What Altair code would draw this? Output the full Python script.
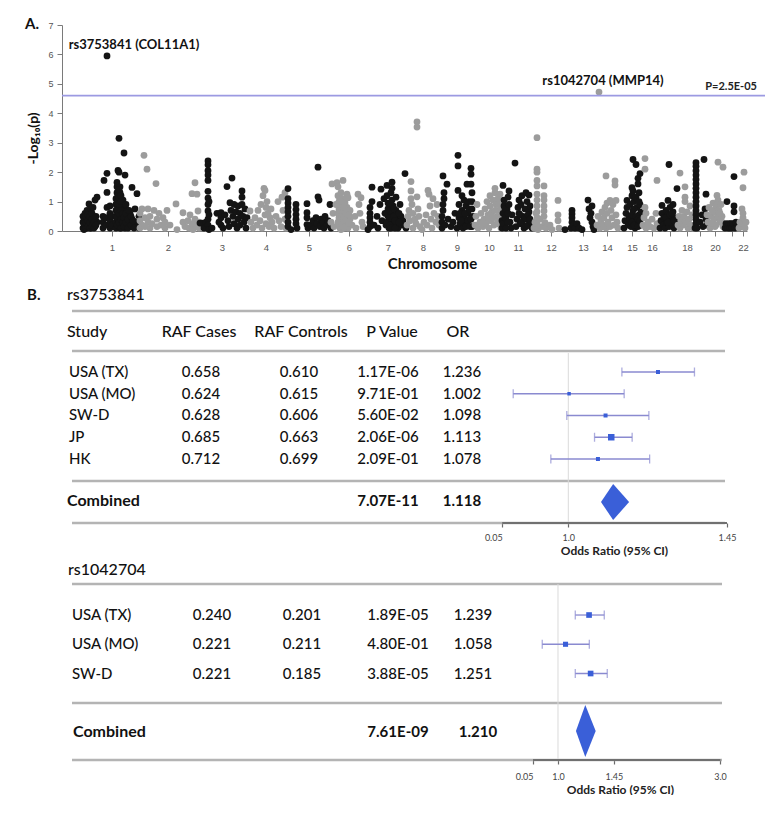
import altair as alt
import pandas as pd

# ================= Panel A : Manhattan plot (cumulative position, -log10 p) =================
chr_centers = [50, 106, 160, 204, 247, 287, 326, 361, 395, 427, 456, 489,
               521, 545, 570, 590, 608, 625, 638, 653, 670, 681]
chr_tick_text = ["1", "2", "3", "4", "5", "6", "7", "8", "9", "10", "11", "12",
                 "13", "14", "15", "16", "", "18", "", "20", "", "22"]

chr1 = [(21,0.1),(21,0.3),(21,0.5),(23,0.2),(23,0.4),(23,0.6),(25,0.1),(25,0.3),(25,0.5),(25,0.7),
        (27,0.2),(27,0.45),(27,0.65),(27,0.92),(29,0.1),(29,0.35),(29,0.55),(29,0.75),(31,0.2),(31,0.5),
        (31,0.8),(33,0.15),(33,0.4),(33,1.05),(35,0.3),(35,1.15),(41,0.1),(41,0.3),(41,0.5),(42,1.72),
        (44,0.2),(44,0.45),(45,1.31),(45,1.96),(45,0.8),(45,5.95),(48,0.1),(48,0.35),(48,0.6),(48,0.85),
        (50,0.2),(50,0.5),(54,0.1),(54,0.3),(54,0.5),(54,0.7),(54,0.9),(54,1.1),(55,1.3),(55,1.5),
        (55,1.65),(56,0.2),(56,0.4),(56,0.6),(56,0.8),(56,1.0),(56,1.2),(56,2.06),(57,2.0),(57,3.15),
        (58,0.1),(58,0.35),(58,0.55),(58,0.75),(58,0.95),(58,1.3),(58,1.5),(60,0.2),(60,0.45),(60,0.65),
        (60,0.85),(61,1.05),(62,2.65),(63,1.9),(63,0.1),(63,0.4),(63,0.6),(63,0.8),(65,0.2),(65,0.5),
        (65,0.7),(68,0.3),(68,0.6),(70,1.48),(70,0.4),(70,0.15),(73,0.75),(73,0.3),(75,1.27),(76,0.25),
        (77,0.5),(77,0.1),(22,0.05),(22,0.25),(22,0.45),(24,0.1),(24,0.3),(24,0.5),(26,0.15),(26,0.35),
        (26,0.55),(28,0.1),(28,0.3),(28,0.5),(30,0.15),(30,0.4),(30,0.6),(32,0.1),(32,0.3),(34,0.2),
        (34,0.5),(55,0.2),(55,0.45),(55,0.7),(55,0.95),(57,0.3),(57,0.6),(57,0.9),(57,1.15),(57,1.4),
        (59,0.1),(59,0.4),(59,0.7),(59,1.0),(59,1.2),(61,0.3),(61,0.6),(62,0.15),(62,0.45),(64,0.3),
        (64,0.6),(64,0.9),(66,0.1),(66,0.4),(67,0.7),(69,0.2),(69,0.5),(71,0.35),(72,0.1)]
chr2 = [(78,0.1),(78,0.35),(78,0.6),(80,0.2),(80,0.75),(82,2.57),(83,0.15),(83,0.45),(85,2.1),(86,0.3),
        (86,0.75),(88,0.1),(88,0.5),(90,0.25),(92,0.7),(94,1.61),(95,0.15),(95,0.4),(97,0.6),(99,0.2),
        (101,0.45),(103,0.1),(103,0.3),(105,0.7),(108,0.2),(114,0.92),(115,0.05),(121,0.62),(121,0.3),
        (123,0.15),(126,0.35),(127,0.1),(128,0.55),(130,1.27),(130,0.25),(131,0.05),(133,1.64),(133,0.4),
        (134,0.2),(135,1.25),(136,0.68),(137,0.3),(137,0.1)]
chr3 = [(138,0.27),(140,0.27),(142,0.1),(144,0.3),(146,2.38),(146,2.25),(146,2.05),(146,1.9),(146,1.72),
        (146,1.35),(146,1.12),(146,0.9),(146,0.68),(146,0.4),(146,0.2),(147,1.0),(147,0.55),(147,0.05),
        (150,0.1),(155,0.6),(157,0.3),(159,0.62),(159,0.45),(159,0.2),(161,0.1),(163,0.55),(165,1.51),
        (166,0.35),(167,0.15),(168,0.96),(169,0.7),(170,1.8),(171,0.5),(172,0.9),(172,0.25),(174,0.65),
        (175,0.1),(176,0.85),(176,0.4),(178,0.6),(178,0.2),(180,1.36),(180,1.15),(180,0.9),(181,0.5),
        (182,0.3),(183,0.75),(184,0.1),(185,0.45)]
chr4 = [(188,0.68),(189,0.3),(191,0.1),(193,0.45),(195,0.2),(196,0.7),(198,0.35),(199,0.9),(200,0.1),
        (201,1.2),(202,1.45),(203,1.38),(203,0.55),(204,0.8),(204,0.25),(205,1.0),(206,0.6),(207,0.15),
        (208,0.45),(209,0.75),(210,0.3),(212,0.1),(214,0.5),(216,1.0),(217,0.35),(219,0.15),(220,1.15),
        (221,0.7),(223,1.3),(223,0.4),(224,0.1)]
chr5 = [(226,1.44),(226,1.1),(226,0.95),(226,0.8),(226,0.65),(226,0.5),(226,0.3),(226,0.15),(229,0.05),
        (234,0.9),(234,0.73),(234,0.56),(234,0.4),(234,0.25),(235,0.1),(245,0.93),(245,0.62),(245,0.45),
        (245,0.22),(246,0.1),(249,0.2),(251,0.35),(252,0.1),(254,0.45),(255,0.25),(256,2.17),(256,1.16),
        (257,1.05),(258,0.15),(259,0.4),(261,0.3),(262,0.1),(263,0.5),(265,0.2),(266,0.35),(268,0.9),
        (269,0.1)]
chr6 = [(269,0.3),(270,1.6),(271,0.6),(272,0.15),(274,0.9),(275,1.64),(276,1.5),(276,1.2),(277,1.0),
        (277,0.75),(277,0.45),(277,0.2),(279,1.3),(279,0.85),(279,0.55),(279,0.05),(281,1.72),(281,1.1),
        (281,0.35),(283,0.95),(283,0.65),(283,0.25),(285,1.25),(285,0.8),(285,0.5),(286,1.13),(286,0.1),
        (288,0.7),(288,0.4),(290,0.2),(293,0.5),(294,0.1),(296,1.25),(297,0.9),(298,0.6),(299,1.13),
        (300,0.3),(301,0.15),(276,0.3),(276,0.6),(276,0.9),(278,0.1),(278,0.4),(278,0.7),(278,1.0),
        (280,0.2),(280,0.5),(280,0.8),(282,0.1),(282,0.5),(282,0.8),(284,0.35),(284,0.6),(287,0.3),
        (287,0.55)]
chr7 = [(306,0.05),(308,0.8),(308,0.6),(308,0.45),(308,0.3),(308,0.15),(310,1.49),(310,1.0),(312,0.2),
        (315,0.5),(316,0.1),(318,0.9),(319,1.42),(320,0.35),(322,1.1),(323,0.6),(324,0.2),(325,1.55),
        (325,1.2),(326,0.95),(326,0.75),(326,0.5),(327,0.3),(327,0.1),(329,1.3),(330,1.66),(330,1.45),
        (330,1.05),(331,0.85),(331,0.55),(332,0.25),(334,1.15),(334,0.7),(335,0.4),(336,0.1),(338,0.9),
        (339,0.5),(340,0.2),(341,0.35),(343,1.95),(344,0.1),(325,0.3),(325,0.6),(328,0.2),(328,0.45),
        (328,0.7),(328,0.95),(329,0.1),(332,0.5),(332,0.75),(333,0.1),(333,0.35),(337,0.3),(337,0.6)]
chr8 = [(345,0.2),(346,0.5),(347,0.7),(348,0.35),(349,1.68),(349,1.36),(349,1.1),(350,0.9),(351,0.6),
        (351,0.1),(353,0.4),(354,0.25),(355,3.71),(355,3.53),(355,1.16),(356,0.75),(357,0.5),(358,0.15),
        (360,0.05),(362,0.3),(364,0.55),(365,0.2),(366,1.38),(367,1.25),(368,0.85),(369,0.4),(370,0.1),
        (371,1.1),(372,0.6),(374,0.3),(375,0.9),(376,0.5),(377,0.2)]
chr9 = [(380,0.1),(380,0.3),(380,0.5),(381,1.87),(381,0.7),(381,0.9),(382,1.1),(382,1.3),(383,0.2),
        (385,1.59),(386,0.4),(389,0.15),(391,0.3),(393,0.6),(395,0.1),(396,2.57),(396,2.21),(396,1.38),
        (397,0.9),(397,0.45),(398,0.25),(400,1.2),(400,0.7),(401,0.1),(402,1.05),(402,0.5),(403,0.3),
        (404,0.85),(405,1.59),(405,0.2),(406,0.6),(407,1.0),(408,0.4),(409,2.13),(409,1.93),(409,1.59),
        (410,1.3),(410,0.75),(410,0.15),(411,0.5),(398,0.6),(399,0.35),(403,0.6),(404,0.15),(406,0.35),
        (407,0.75),(408,0.15),(409,0.4),(410,1.0)]
chr10 = [(413,0.2),(414,0.5),(415,0.9),(416,0.1),(418,0.3),(419,0.6),(421,0.15),(422,0.4),(423,0.75),
         (424,0.25),(425,1.0),(426,0.55),(427,0.1),(428,1.2),(428,0.85),(429,0.35),(430,0.65),(431,1.05),
         (432,0.2),(433,1.45),(433,1.3),(434,0.9),(435,0.5),(436,1.1),(436,0.3),(437,0.7),(438,1.25),
         (439,0.45),(439,0.1),(427,0.4),(429,0.6),(431,0.45),(433,0.7),(435,0.25),(437,0.9)]
chr11 = [(440,0.1),(440,0.35),(441,1.55),(441,0.6),(442,0.85),(442,1.05),(443,0.2),(444,0.45),(445,0.75),
         (446,1.15),(447,1.36),(448,0.3),(449,0.1),(450,0.55),(453,2.31),(454,0.15),(455,0.4),(456,0.8),
         (457,1.05),(457,0.6),(458,0.25),(459,0.9),(460,1.2),(461,0.5),(462,0.1),(463,0.75),(464,1.3),
         (465,1.0),(465,0.4),(466,0.2),(467,1.22),(467,0.65),(468,0.85),(469,0.3),(470,0.1),(441,0.25),
         (443,0.45),(443,0.75),(444,0.1),(446,0.3),(446,0.6),(447,0.9),(458,0.55),(460,0.3),(463,0.45),
         (464,0.15),(466,0.55),(468,0.4)]
chr12 = [(472,0.1),(473,0.3),(474,0.6),(475,3.17),(475,2.1),(475,2.0),(475,1.72),(475,1.53),(475,1.25),
         (475,1.05),(475,0.85),(475,0.65),(475,0.45),(475,0.25),(476,0.05),(478,0.4),(480,0.15),(482,1.53),
         (482,1.2),(482,1.05),(482,0.85),(482,0.68),(482,0.5),(483,0.28),(484,0.1),(488,0.2),(490,0.05),
         (496,1.04),(496,0.55),(496,0.35),(497,0.1)]
chr13 = [(503,0.05),(509,0.1),(510,0.7),(510,0.58),(510,0.45),(510,0.3),(511,0.2),(513,0.1),(515,0.25),
         (517,0.1),(520,0.05),(526,1.05),(527,0.75),(528,0.45),(529,0.6),(530,0.85),(530,0.3),(531,0.15),
         (532,0.05)]
chr14 = [(535,0.2),(536,0.5),(537,4.72),(538,0.1),(539,0.35),(540,0.65),(541,0.2),(542,0.45),(543,0.8),
         (544,1.87),(544,0.1),(545,0.95),(545,0.6),(546,0.3),(548,1.04),(548,0.15),(549,0.7),(550,0.45),
         (551,0.9),(552,0.2),(553,1.7),(553,1.56),(554,1.04),(554,0.55),(555,0.3),(556,0.1)]
chr15 = [(562,0.1),(563,0.35),(564,0.6),(565,1.04),(565,0.8),(566,0.2),(567,0.5),(568,0.9),(569,0.15),
         (570,1.47),(570,1.2),(571,2.43),(571,1.36),(571,0.7),(572,0.4),(572,1.0),(573,0.1),(574,2.26),
         (574,1.15),(575,0.8),(575,0.3),(576,1.79),(576,1.6),(577,0.55),(577,1.3),(578,1.95),(578,0.9),
         (579,0.2),(579,0.65),(568,0.4),(570,0.3),(570,0.55),(572,0.2),(572,0.75),(574,0.5),(576,0.4),
         (576,0.15),(577,1.0),(578,0.35)]
chr16 = [(581,0.2),(582,0.45),(583,2.46),(583,2.1),(583,0.8),(584,0.6),(584,0.1),(586,0.3),(588,0.15),
         (590,0.4),(592,0.1),(594,0.6),(595,1.72),(595,0.25)]
chr17 = [(598,0.1),(599,0.35),(600,0.87),(600,0.6),(601,0.2),(602,0.45),(603,0.1),(604,0.7),(605,0.3),
         (606,1.04),(606,0.55),(607,2.26),(607,0.15),(608,0.8),(609,0.4),(610,0.2),(611,0.9),(611,0.65),
         (612,0.1),(613,0.45),(615,1.44),(615,0.25),(604,0.45),(606,0.3),(608,0.55),(610,0.6),(612,0.35)]
chr18 = [(616,0.2),(617,0.5),(618,1.97),(618,0.1),(619,0.35),(620,0.7),(621,0.2),(622,0.5),(623,1.5),
         (623,1.15),(623,1.0),(624,0.3),(625,0.65),(626,0.1),(627,0.4),(628,0.85),(629,0.2),(630,0.55),
         (631,0.1)]
chr19 = [(633,0.1),(634,2.32),(634,2.2),(634,2.05),(634,1.9),(634,1.75),(634,1.6),(634,1.45),(634,1.3),
         (634,1.15),(634,1.0),(634,0.85),(634,0.7),(634,0.55),(634,0.4),(634,0.25),(635,0.1),(638,0.3),
         (640,0.55),(641,0.15),(642,2.43),(643,0.75),(644,1.25),(644,0.4),(645,0.2)]
chr20 = [(645,0.55),(646,0.3),(647,0.8),(648,0.1),(649,0.5),(650,0.25),(651,0.95),(652,0.65),(653,0.15),
         (654,0.85),(655,1.21),(655,0.45),(656,2.34),(656,1.05),(657,0.7),(658,0.3),(659,0.9),(660,0.5),
         (661,2.17),(661,0.15),(650,0.7),(652,0.4),(654,0.2),(656,0.5),(658,0.6),(660,0.3)]
chr21 = [(663,0.1),(664,0.25),(665,1.0),(666,0.1),(667,0.25),(668,0.1),(669,0.25),(670,0.1),(671,0.25),
         (672,1.85),(672,0.85),(672,0.65),(673,0.1),(674,0.3)]
chr22 = [(677,0.1),(678,0.3),(679,0.15),(680,0.75),(681,1.47),(681,0.6),(681,0.45),(682,2.0),(682,0.2),
         (683,0.1),(684,0.3)]

chromosomes = [chr1, chr2, chr3, chr4, chr5, chr6, chr7, chr8, chr9, chr10, chr11,
               chr12, chr13, chr14, chr15, chr16, chr17, chr18, chr19, chr20, chr21, chr22]

threshold = 4.6          # -log10(2.5E-05)
threshold_label = "P=2.5E-05"
snp_labels = ["rs3753841 (COL11A1)", "rs1042704 (MMP14)"]
snp_pos = [45, 537]
snp_logp = [5.95, 4.72]

# ================= Panel B : forest plots =================
studies1 = ["USA (TX)", "USA (MO)", "SW-D", "JP", "HK"]
raf_cases1 = ["0.658", "0.624", "0.628", "0.685", "0.712"]
raf_ctrls1 = ["0.610", "0.615", "0.606", "0.663", "0.699"]
pvals1 = ["1.17E-06", "9.71E-01", "5.60E-02", "2.06E-06", "2.09E-01"]
or1 = [1.236, 1.002, 1.098, 1.113, 1.078]
lo1 = [1.141, 0.855, 0.996, 1.069, 0.954]
hi1 = [1.332, 1.147, 1.212, 1.168, 1.214]
wt1 = [16, 12, 16, 42, 16]
comb1 = {"p": "7.07E-11", "or": 1.118, "lo": 1.086, "hi": 1.160}

studies2 = ["USA (TX)", "USA (MO)", "SW-D"]
raf_cases2 = ["0.240", "0.221", "0.221"]
raf_ctrls2 = ["0.201", "0.211", "0.185"]
pvals2 = ["1.89E-05", "4.80E-01", "3.88E-05"]
or2 = [1.239, 1.058, 1.251]
lo2 = [1.133, 0.879, 1.133]
hi2 = [1.356, 1.241, 1.379]
wt2 = [32, 26, 32]
comb2 = {"p": "7.61E-09", "or": 1.210, "lo": 1.138, "hi": 1.290}

header = ["Study", "RAF Cases", "RAF Controls", "P Value", "OR"]

FONT = "Lato"
BLUE = "#3a5fd8"
CI_COL = "#8a8ad0"
TXT = "#111111"
BODY_W = 500

# ----------------------------------------------------------- Manhattan
rows = []
for i, pts in enumerate(chromosomes, start=1):
    for pos, lp in pts:
        rows.append({"chr": i, "pos": pos, "logp": lp, "grp": "odd" if i % 2 else "even"})
man_df = pd.DataFrame(rows)

xs = alt.Scale(domain=[0, 685], nice=False, zero=False)
ys = alt.Scale(domain=[0, 7], nice=False, zero=True)
label_expr = ("[" + ",".join("'%s'" % t for t in chr_tick_text) + "][indexof(["
              + ",".join(str(c) for c in chr_centers) + "], datum.value)]")

x_axis = alt.Axis(values=chr_centers, labelExpr=label_expr, title="Chromosome", grid=False,
                  domainColor="#7a7a7a", tickColor="#7a7a7a", tickSize=5, labelFont="Liberation Sans",
                  labelFontSize=9.5, labelColor="#555555", labelPadding=6, labelFlush=False,
                  titleFont=FONT, titleFontSize=15, titleFontWeight="bold", titleColor="#111111",
                  titlePadding=5, titleX=370)
y_axis = alt.Axis(values=list(range(8)), title="-Log\u2081\u2080(p)", grid=False,
                  domainColor="#7a7a7a", tickColor="#7a7a7a", tickSize=5, labelFont="Liberation Sans",
                  labelFontSize=9, labelColor="#555555", labelPadding=4,
                  titleFont=FONT, titleFontSize=14, titleFontWeight="bold", titleColor="#111111",
                  titlePadding=7, titleY=113)

pts = alt.Chart(man_df).mark_circle(size=46, opacity=1).encode(
    x=alt.X("pos:Q", scale=xs, axis=x_axis),
    y=alt.Y("logp:Q", scale=ys, axis=y_axis),
    color=alt.Color("grp:N", scale=alt.Scale(domain=["odd", "even"], range=["#141414", "#9c9c9c"]),
                    legend=None),
)
thr_df = pd.DataFrame({"x": [0], "x2": [703], "y": [threshold]})
thr = alt.Chart(thr_df).mark_rule(color="#9c9ae2", strokeWidth=1.6).encode(
    x=alt.X("x:Q", scale=xs, axis=x_axis), x2="x2:Q", y=alt.Y("y:Q", scale=ys, axis=y_axis))
thr_txt = alt.Chart(pd.DataFrame({"x": [695], "y": [threshold], "t": [threshold_label]})).mark_text(
    align="right", baseline="middle", dy=-9, font=FONT, fontSize=11, fontWeight="bold", color="#222222"
).encode(x=alt.X("x:Q", scale=xs, axis=x_axis), y=alt.Y("y:Q", scale=ys, axis=y_axis), text="t:N")

snp_df = pd.DataFrame({"pos": snp_pos, "logp": snp_logp, "t": snp_labels})
snp1 = alt.Chart(snp_df.iloc[[0]]).mark_text(
    align="center", baseline="middle", dx=27, dy=-11, font=FONT, fontSize=13, fontWeight="bold",
    color="#111111").encode(x=alt.X("pos:Q", scale=xs, axis=x_axis),
                            y=alt.Y("logp:Q", scale=ys, axis=y_axis), text="t:N")
snp2 = alt.Chart(snp_df.iloc[[1]]).mark_text(
    align="center", baseline="middle", dx=4, dy=-11, font=FONT, fontSize=13, fontWeight="bold",
    color="#111111").encode(x=alt.X("pos:Q", scale=xs, axis=x_axis),
                            y=alt.Y("logp:Q", scale=ys, axis=y_axis), text="t:N")
letterA = alt.Chart(pd.DataFrame({"t": ["A."]})).mark_text(
    align="left", baseline="middle", font=FONT, fontSize=15, fontWeight="bold", color="#111111"
).encode(x=alt.value(-37), y=alt.value(-1), text="t:N")

manhattan = alt.layer(pts, thr, thr_txt, snp1, snp2, letterA).properties(width=685, height=206)


# ----------------------------------------------------------- Forest builder
def forest(letter, snp, studies, cases, ctrls, pvals, ors, los, his, wts, comb, L):
    LX = alt.Scale(domain=[0, L["W"]], nice=False, zero=False)
    Y = alt.Scale(domain=[L["row_top"], L["row_bot"]], reverse=True, nice=False, zero=False)
    ORX = alt.Scale(domain=L["or_domain"], nice=False, zero=False)
    n = len(studies)

    def tl(df, align, size, weight=BODY_W, color=TXT):
        return alt.Chart(df).mark_text(align=align, baseline="middle", font=FONT, fontSize=size,
                                       fontWeight=weight, color=color).encode(
            x=alt.X("lx:Q", scale=LX, axis=None), y=alt.Y("r:Q", scale=Y, axis=None), text="t:N")

    lines_df = pd.DataFrame({"lx": [L["line_x"][0]] * len(L["lines"]),
                             "lx2": [L["line_x"][1]] * len(L["lines"]), "r": L["lines"]})
    lines = alt.Chart(lines_df).mark_rule(color="#b4b4b4", strokeWidth=2.5).encode(
        x=alt.X("lx:Q", scale=LX, axis=None), x2="lx2:Q", y=alt.Y("r:Q", scale=Y, axis=None))

    text_layers = [lines]
    heads = [{"lx": L["heading_x"], "r": L["head_row"], "t": snp}]
    text_layers.append(tl(pd.DataFrame(heads), "left", 16))
    if letter:
        text_layers.append(tl(pd.DataFrame([{"lx": L["letter_x"], "r": L["head_row"], "t": letter}]),
                              "left", 15, weight="bold"))
    if L.get("header_row") is not None:
        text_layers.append(tl(pd.DataFrame([{"lx": L["header_left_x"], "r": L["header_row"],
                                             "t": header[0]}]), "left", 16))
        text_layers.append(tl(pd.DataFrame([{"lx": x, "r": L["header_row"], "t": t}
                                            for x, t in zip(L["header_centers"], header[1:])]),
                              "center", 16))
    names = pd.DataFrame({"lx": [L["name_x"]] * n, "r": list(range(n)), "t": studies})
    text_layers.append(tl(names, "left", 15))
    vals = []
    for col, x in zip([cases, ctrls, pvals, ["%.3f" % v for v in ors]], L["val_centers"]):
        for i, t in enumerate(col):
            vals.append({"lx": x, "r": i, "t": t})
    text_layers.append(tl(pd.DataFrame(vals), "center", 15))
    text_layers.append(tl(pd.DataFrame([{"lx": L["comb_name_x"], "r": L["comb_row"], "t": "Combined"}]),
                          "left", 16, weight="bold"))
    text_layers.append(tl(pd.DataFrame([{"lx": L["comb_centers"][0], "r": L["comb_row"], "t": comb["p"]},
                                        {"lx": L["comb_centers"][1], "r": L["comb_row"],
                                         "t": "%.3f" % comb["or"]}]),
                          "center", 15, weight="bold"))

    tv = L["ticks"]
    tt = L["tick_text"]
    expr = "".join("datum.value < %s ? '%s' : " % ((tv[i] + tv[i + 1]) / 2, tt[i])
                   for i in range(len(tv) - 1)) + "'%s'" % tt[-1]
    or_axis = alt.Axis(values=tv, labelExpr=expr, orient="bottom", domain=False, grid=False,
                       ticks=True, tickColor="#6a6a6a", tickSize=4, tickWidth=1.2,
                       labelFont=FONT, labelFontSize=9, labelColor="#444444",
                       labelPadding=L["label_pad"],
                       labelAlign={"condition": {"test": "datum.value < 0.9", "value": "right"},
                                   "value": "center"},
                       title="Odds Ratio (95% CI)", titleFont=FONT, titleFontSize=12,
                       titleFontWeight="bold", titleColor="#222222", titlePadding=L["title_pad"],
                       titleX=L["title_x"])

    def ox(field):
        return alt.X(field, scale=ORX, axis=or_axis)

    ref = alt.Chart(pd.DataFrame({"x": [1.0], "r": [L["ref_top"]], "r2": [L["row_bot"]]})).mark_rule(
        color="#dadada", strokeWidth=1).encode(x=ox("x:Q"), y=alt.Y("r:Q", scale=Y, axis=None), y2="r2:Q")
    seg = alt.Chart(pd.DataFrame({"x": [L["axis_seg"][0]], "x2": [L["axis_seg"][1]],
                                  "r": [L["row_bot"]]})).mark_rule(color="#707070", strokeWidth=2).encode(
        x=ox("x:Q"), x2="x2:Q", y=alt.Y("r:Q", scale=Y, axis=None))
    st = pd.DataFrame({"or": ors, "lo": los, "hi": his, "r": list(range(n)), "w": wts})
    ci = alt.Chart(st).mark_rule(color=CI_COL, strokeWidth=1.3).encode(
        x=ox("lo:Q"), x2="hi:Q", y=alt.Y("r:Q", scale=Y, axis=None))
    caps_df = pd.DataFrame({"x": los + his, "r": list(range(n)) * 2})
    caps = alt.Chart(caps_df).mark_tick(orient="vertical", size=9, thickness=1.3, color=CI_COL).encode(
        x=ox("x:Q"), y=alt.Y("r:Q", scale=Y, axis=None))
    sq = alt.Chart(st).mark_square(color=BLUE, opacity=1).encode(
        x=ox("or:Q"), y=alt.Y("r:Q", scale=Y, axis=None), size=alt.Size("w:Q", scale=None, legend=None))
    c, h = L["diamond_c"], L["diamond_h"]
    dia_df = pd.DataFrame({"x": [comb["lo"], comb["or"], comb["hi"]],
                           "y": [c, c - h, c], "y2": [c, c + h, c]})
    dia = alt.Chart(dia_df).mark_area(orient="vertical", color=BLUE, opacity=1).encode(
        x=ox("x:Q"), y=alt.Y("y:Q", scale=Y, axis=None), y2="y2:Q")

    tgroup = alt.layer(*text_layers)
    ogroup = alt.layer(ref, seg, ci, caps, sq, dia)
    return alt.layer(tgroup, ogroup).resolve_scale(x="independent").properties(
        width=L["W"], height=L["H"])


L1 = dict(W=665, row_top=-4.598, row_bot=6.943, H=251,
          letter_x=-35, heading_x=5, head_row=-3.563,
          header_row=-1.839, header_left_x=5, header_centers=[137, 239, 330, 396],
          name_x=7, val_centers=[139, 237, 326, 400],
          comb_row=5.931, comb_name_x=5, comb_centers=[326, 400],
          lines=[-2.805, -0.966, 5.011, 6.943], line_x=(10, 663), ref_top=-0.874,
          or_domain=[-0.3324, 1.4176], ticks=[0.826, 1.0, 1.4176], tick_text=["0.05", "1.0", "1.45"],
          axis_seg=(0.826, 1.4176), diamond_c=5.977, diamond_h=0.828,
          title_x=552, label_pad=6, title_pad=3)
L2 = dict(W=665, row_top=-2.018, row_bot=4.957, H=204,
          heading_x=6, head_row=-1.538, header_row=None,
          name_x=10, val_centers=[150, 240, 336, 411],
          comb_row=4.0, comb_name_x=11, comb_centers=[336, 416],
          lines=[-1.060, 3.009, 4.957], line_x=(10, 660), ref_top=-1.06,
          or_domain=[-2.815, 2.3], ticks=[0.808, 1.0, 1.43, 2.246],
          tick_text=["0.05", "1.0", "1.45", "3.0"],
          axis_seg=(0.808, 2.25), diamond_c=3.966, diamond_h=0.889,
          title_x=558, label_pad=8, title_pad=3)

f1 = forest("B.", "rs3753841", studies1, raf_cases1, raf_ctrls1, pvals1, or1, lo1, hi1, wt1, comb1, L1)
f2 = forest(None, "rs1042704", studies2, raf_cases2, raf_ctrls2, pvals2, or2, lo2, hi2, wt2, comb2, L2)

chart = alt.vconcat(manhattan, f1, f2, spacing=0).properties(
    padding={"left": 17, "top": 9, "right": 0, "bottom": 0}
).configure_view(stroke=None)

chart.save("out.html", embed_options={"renderer": "svg", "actions": False})
